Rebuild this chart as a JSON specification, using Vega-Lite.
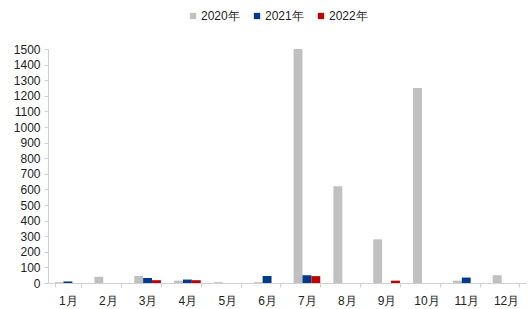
{
  "$schema": "https://vega.github.io/schema/vega-lite/v6.json",
  "width": 478,
  "height": 234,
  "autosize": {"type": "none"},
  "padding": {"left": 48, "top": 49, "right": 3, "bottom": 26},
  "background": "white",
  "config": {"view": {"stroke": null}, "font": "Liberation Sans"},
  "data": {"values": [
    {"m": "1月", "s": "2020年", "v": 5},
    {"m": "1月", "s": "2021年", "v": 10},
    {"m": "1月", "s": "2022年", "v": 0},
    {"m": "2月", "s": "2020年", "v": 40},
    {"m": "2月", "s": "2021年", "v": 0},
    {"m": "2月", "s": "2022年", "v": 0},
    {"m": "3月", "s": "2020年", "v": 45},
    {"m": "3月", "s": "2021年", "v": 32},
    {"m": "3月", "s": "2022年", "v": 18},
    {"m": "4月", "s": "2020年", "v": 15},
    {"m": "4月", "s": "2021年", "v": 22},
    {"m": "4月", "s": "2022年", "v": 18},
    {"m": "5月", "s": "2020年", "v": 5},
    {"m": "5月", "s": "2021年", "v": 0},
    {"m": "5月", "s": "2022年", "v": 0},
    {"m": "6月", "s": "2020年", "v": 5},
    {"m": "6月", "s": "2021年", "v": 45},
    {"m": "6月", "s": "2022年", "v": 0},
    {"m": "7月", "s": "2020年", "v": 1500},
    {"m": "7月", "s": "2021年", "v": 50},
    {"m": "7月", "s": "2022年", "v": 44},
    {"m": "8月", "s": "2020年", "v": 620},
    {"m": "8月", "s": "2021年", "v": 0},
    {"m": "8月", "s": "2022年", "v": 0},
    {"m": "9月", "s": "2020年", "v": 280},
    {"m": "9月", "s": "2021年", "v": 0},
    {"m": "9月", "s": "2022年", "v": 15},
    {"m": "10月", "s": "2020年", "v": 1250},
    {"m": "10月", "s": "2021年", "v": 0},
    {"m": "10月", "s": "2022年", "v": 0},
    {"m": "11月", "s": "2020年", "v": 15},
    {"m": "11月", "s": "2021年", "v": 35},
    {"m": "11月", "s": "2022年", "v": 0},
    {"m": "12月", "s": "2020年", "v": 50},
    {"m": "12月", "s": "2021年", "v": 0},
    {"m": "12月", "s": "2022年", "v": 0}
  ]},
  "mark": {"type": "bar"},
  "encoding": {
    "x": {
      "field": "m", "type": "nominal", "sort": null,
      "scale": {"paddingInner": 0.33, "paddingOuter": 0.165},
      "axis": {
        "title": null, "labelAngle": 0, "labelFontSize": 12, "labelColor": "#222",
        "labelPadding": 8, "domainColor": "#d0d0d0", "tickColor": "#d0d0d0",
        "tickBand": "extent", "tickSize": 4, "grid": false
      }
    },
    "xOffset": {"field": "s", "type": "nominal", "sort": ["2020年", "2021年", "2022年"]},
    "y": {
      "field": "v", "type": "quantitative",
      "scale": {"domain": [0, 1500], "nice": false},
      "axis": {
        "title": null, "format": "d", "values": [0,100,200,300,400,500,600,700,800,900,1000,1100,1200,1300,1400,1500],
        "labelFontSize": 12, "labelColor": "#222", "labelPadding": 4,
        "domainColor": "#d0d0d0", "tickColor": "#d0d0d0", "tickSize": 4, "grid": false
      }
    },
    "color": {
      "field": "s", "type": "nominal",
      "scale": {"domain": ["2020年", "2021年", "2022年"], "range": ["#c0c0c0", "#003a8c", "#c00000"]},
      "legend": {
        "title": null, "orient": "none", "direction": "horizontal",
        "legendX": 139, "legendY": -39, "symbolType": "square", "symbolSize": 40,
        "labelFontSize": 12, "labelColor": "#222", "columnPadding": 11, "symbolStrokeWidth": 0,
        "labelOffset": 2
      }
    }
  }
}
